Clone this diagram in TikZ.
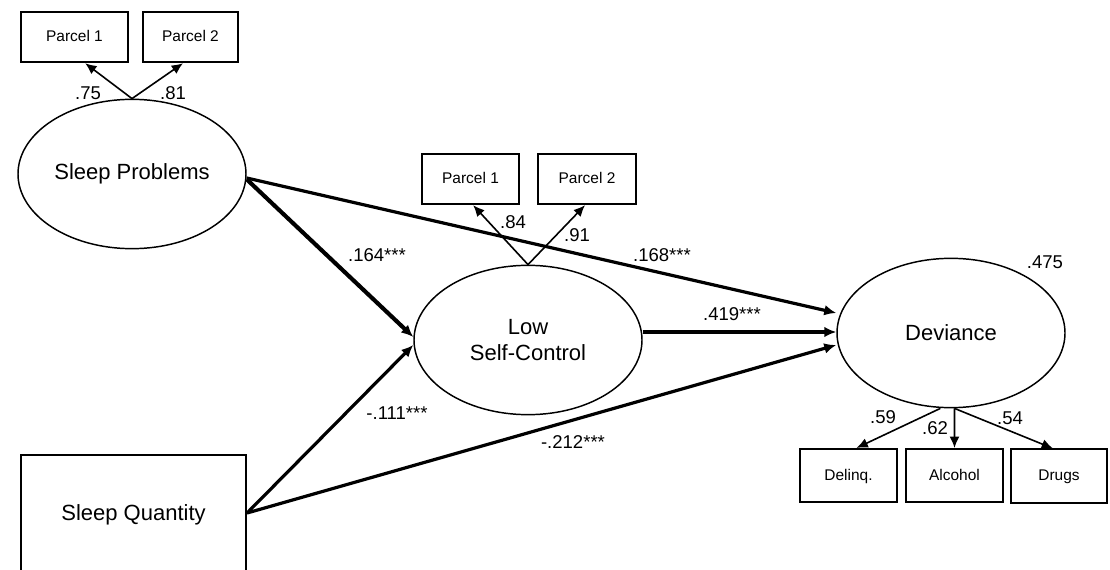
\documentclass[tikz,border=0pt]{standalone}
\usepackage{fontspec}
\setmainfont{Liberation Sans}
\usetikzlibrary{arrows.meta,shapes.geometric}
\begin{document}
\begin{tikzpicture}[x=0.75pt,y=-0.75pt,
  lat/.style={draw,ellipse,line width=1.1pt,inner sep=0pt,minimum width=171pt,minimum height=112pt,font=\fontsize{16.5}{19.5}\selectfont,align=center},
  ind/.style={draw,rectangle,line width=1.3pt,inner sep=0pt,minimum height=38pt,text height=8.4pt,text depth=1.6pt,font=\fontsize{11.6}{14}\selectfont},
  obs/.style={draw,rectangle,line width=1.3pt,inner sep=0pt,font=\fontsize{16.5}{19}\selectfont},
  coef/.style={inner sep=0pt,font=\fontsize{13.9}{16}\selectfont},
  thin/.style={line width=1.2pt,-{Latex[length=8.5pt,width=7.5pt]}},
  path/.style={line width=2.4pt,-{Latex[length=9pt,width=8pt]}},
  pathb/.style={line width=3.1pt,-{Latex[length=9pt,width=8pt]}}]
\useasboundingbox (0,0) rectangle (1110,570);
\begin{scope}
\clip (0,0) rectangle (1110,570);
\node[obs,minimum width=169pt,minimum height=90pt] (SQ) at (133.5,515) {Sleep Quantity};
\end{scope}
% latent variables
\node[lat] (SP) at (132,174) {Sleep Problems};
\node[lat] (LSC) at (528,340) {Low\\Self-Control};
\node[lat] (DEV) at (951,333) {Deviance};
% indicators
\node[ind,minimum width=80pt] (P1a) at (74.5,37) {Parcel 1};
\node[ind,minimum width=71pt] (P2a) at (190.5,37) {Parcel 2};
\node[ind,minimum width=73pt] (P1b) at (470.5,179) {Parcel 1};
\node[ind,minimum width=73pt] (P2b) at (587,179) {Parcel 2};
\node[ind,minimum width=73pt,minimum height=40pt] (DL) at (848.5,475.5) {Delinq.};
\node[ind,minimum width=73pt,minimum height=40pt] (AL) at (954.5,475.5) {Alcohol};
\node[ind,minimum width=72pt,minimum height=40pt] (DR) at (1059,476) {Drugs};
% measurement arrows
\draw[thin] (SP.north) -- ([xshift=8pt]P1a.south);
\draw[thin] (SP.north) -- ([xshift=-5.6pt]P2a.south);
\draw[thin] (LSC.north) -- ([xshift=2pt]P1b.south);
\draw[thin] (LSC.north) -- ([xshift=-1.5pt]P2b.south);
\draw[thin] ([xshift=-8pt]DEV.south) -- ([xshift=6pt]DL.north);
\draw[thin] ([xshift=2.6pt]DEV.south) -- (AL.north);
\draw[thin] ([xshift=2.6pt]DEV.south) -- ([xshift=-4.5pt]DR.north);
% structural paths
\draw[pathb] ([yshift=-4pt]SP.east) -- ([yshift=2.25pt]LSC.west);
\draw[path] ([yshift=-3pt]SP.east) -- ([yshift=15pt]DEV.west);
\draw[path] ([yshift=6pt]LSC.east) -- ([yshift=0.75pt]DEV.west);
\draw[path] ([yshift=1.5pt]SQ.east) -- ([yshift=-3.75pt]LSC.west);
\draw[path] ([yshift=1.5pt]SQ.east) -- ([yshift=-9pt]DEV.west);
% coefficients
\node[coef] (c75) at (88,93) {.75};
\node[coef] (c81) at (173,93) {.81};
\node[coef] (c84) at (513,222) {.84};
\node[coef] (c91) at (577,235) {.91};
\node[coef] (c164) at (377,255) {.164***};
\node[coef] (c168) at (662,255) {.168***};
\node[coef] (c419) at (732,314) {.419***};
\node[coef] (c111) at (397,413) {-.111***};
\node[coef] (c212) at (573,442) {-.212***};
\node[coef] (c475) at (1045,262) {.475};
\node[coef] (c59) at (883,417) {.59};
\node[coef] (c62) at (935,428) {.62};
\node[coef] (c54) at (1010,418) {.54};
\end{tikzpicture}
\end{document}
